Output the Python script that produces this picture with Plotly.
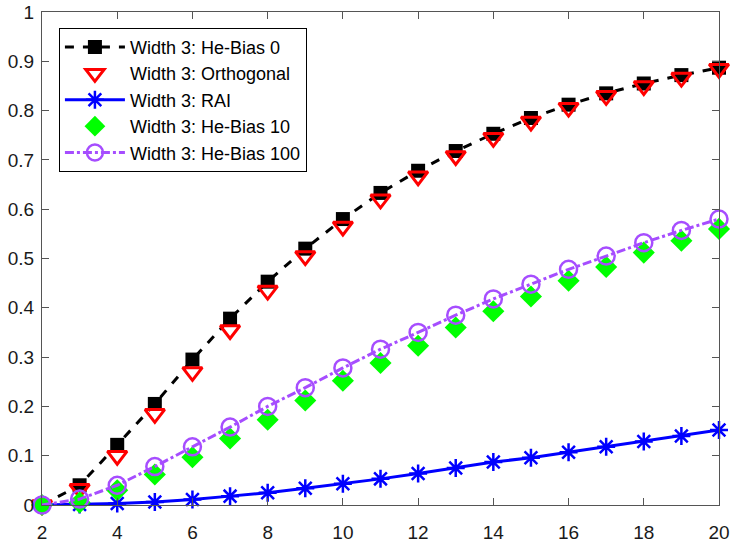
import plotly.graph_objects as go

x = list(range(2, 21))
he_bias_0 = [0.0, 0.040, 0.122, 0.205, 0.295, 0.378, 0.453, 0.520, 0.580, 0.633, 0.678, 0.718, 0.753, 0.785, 0.812, 0.835, 0.855, 0.872, 0.887]
orthogonal = [0.0, 0.033, 0.100, 0.185, 0.270, 0.355, 0.435, 0.505, 0.565, 0.620, 0.667, 0.708, 0.745, 0.778, 0.806, 0.830, 0.850, 0.867, 0.885]
rai = [0.0, 0.001, 0.003, 0.006, 0.011, 0.018, 0.025, 0.034, 0.043, 0.053, 0.064, 0.075, 0.087, 0.096, 0.107, 0.118, 0.129, 0.140, 0.152]
he_bias_10 = [0.0, 0.005, 0.030, 0.062, 0.097, 0.135, 0.173, 0.212, 0.252, 0.288, 0.323, 0.360, 0.393, 0.423, 0.455, 0.483, 0.512, 0.536, 0.560]
he_bias_100 = [0.0, 0.012, 0.040, 0.078, 0.118, 0.158, 0.200, 0.238, 0.278, 0.316, 0.350, 0.385, 0.418, 0.448, 0.478, 0.505, 0.532, 0.557, 0.580]

names = ["Width 3: He-Bias 0", "Width 3: Orthogonal", "Width 3: RAI",
         "Width 3: He-Bias 10", "Width 3: He-Bias 100"]
x_ticks = list(range(2, 21, 2))
y_ticks = [i / 10 for i in range(0, 11)]
y_tick_text = ["0", "0.1", "0.2", "0.3", "0.4", "0.5", "0.6", "0.7", "0.8", "0.9", "1"]

fig = go.Figure()
fig.add_trace(go.Scatter(x=x, y=he_bias_0, name=names[0], mode="lines+markers",
                         line=dict(color="black", width=3, dash="dash"),
                         marker=dict(symbol="square", size=14, color="black"),
                         cliponaxis=False))
fig.add_trace(go.Scatter(x=x, y=orthogonal, name=names[1], mode="markers",
                         marker=dict(symbol="triangle-down-open", size=17, color="red",
                                     line=dict(color="red", width=3)),
                         cliponaxis=False))
fig.add_trace(go.Scatter(x=x, y=rai, name=names[2], mode="lines+markers",
                         line=dict(color="blue", width=3),
                         marker=dict(symbol="asterisk-open", size=15, color="blue",
                                     line=dict(color="blue", width=2.5)),
                         cliponaxis=False))
fig.add_trace(go.Scatter(x=x, y=he_bias_10, name=names[3], mode="markers",
                         marker=dict(symbol="diamond", size=17, color="#00ff00"),
                         cliponaxis=False))
fig.add_trace(go.Scatter(x=x, y=he_bias_100, name=names[4], mode="lines+markers",
                         line=dict(color="#a64dff", width=3, dash="dashdot"),
                         marker=dict(symbol="circle-open", size=17, color="#a64dff",
                                     line=dict(color="#a64dff", width=2.5)),
                         cliponaxis=False))

axis_common = dict(showline=True, linecolor="#555555", linewidth=1, mirror="ticks",
                   ticks="inside", ticklen=7, tickcolor="#555555", showgrid=False,
                   zeroline=False, automargin=False,
                   tickfont=dict(family="Liberation Sans, Arial", size=19, color="#1a1a1a"))
fig.update_xaxes(range=[2, 20], tickvals=x_ticks, ticklabelstandoff=10, **axis_common)
fig.update_yaxes(range=[0, 1], tickvals=y_ticks, ticktext=y_tick_text, ticklabelstandoff=3,
                 **axis_common)

fig.update_layout(
    width=740, height=544,
    margin=dict(l=42, r=21, t=12, b=39),
    plot_bgcolor="white", paper_bgcolor="white",
    font=dict(family="Liberation Sans, Arial", color="black"),
    legend=dict(x=0.025, y=0.968, xanchor="left", yanchor="top",
                bordercolor="black", borderwidth=1, bgcolor="white",
                font=dict(size=18, color="black"), tracegroupgap=0, itemwidth=60),
    showlegend=True,
)

fig.write_html("out.html")
